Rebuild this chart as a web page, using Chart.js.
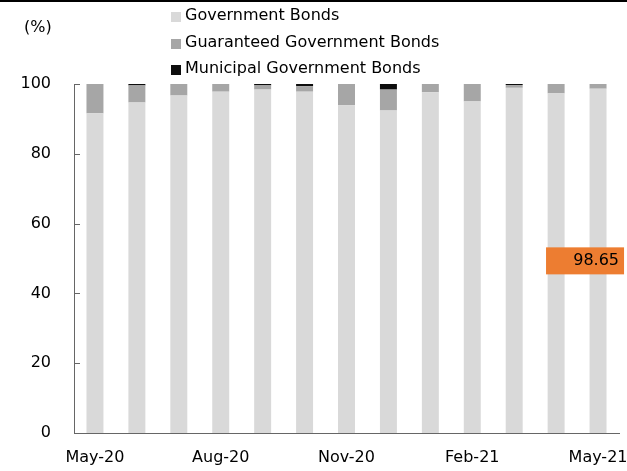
<!DOCTYPE html>
<html><head><meta charset="utf-8">
<script src="https://cdn.jsdelivr.net/npm/chart.js@4"></script>
<style>html,body{margin:0;padding:0;background:#fff;}#wrap{width:627px;height:471px;position:relative;}</style>
</head><body><div id="wrap"><canvas id="c" width="627" height="471"></canvas></div>
<script>
const months = ['May-20','Jun-20','Jul-20','Aug-20','Sep-20','Oct-20','Nov-20','Dec-20','Jan-21','Feb-21','Mar-21','Apr-21','May-21'];
const governmentBonds = [91.6, 94.7, 96.7, 97.8, 98.4, 97.8, 93.9, 92.4, 97.6, 95.0, 98.9, 97.3, 98.65];
const guaranteedBonds = [8.4, 4.9, 3.3, 2.2, 1.2, 1.6, 6.1, 6.0, 2.4, 5.0, 0.8, 2.7, 1.35];
const municipalBonds = [0, 0.4, 0, 0, 0.4, 0.6, 0, 1.6, 0, 0, 0.3, 0, 0];
const yTicks = [0, 20, 40, 60, 80, 100];
const seriesNames = ['Government Bonds', 'Guaranteed Government Bonds', 'Municipal Government Bonds'];

const FONT = "'DejaVu Sans', sans-serif";
const colors = ['#d9d9d9', '#a6a6a6', '#0d0d0d'];

const extras = {
  id: 'extras',
  afterDraw(chart) {
    const ctx = chart.ctx;
    const y = chart.scales.y;
    ctx.save();
    ctx.fillStyle = '#000';
    ctx.fillRect(0, 0, chart.width, 2);
    ctx.strokeStyle = '#666';
    ctx.lineWidth = 1;
    yTicks.forEach(v => {
      if (v === 0) return;
      const py = Math.round(y.getPixelForValue(v)) + 0.5;
      ctx.beginPath();
      ctx.moveTo(chart.chartArea.left, py);
      ctx.lineTo(chart.chartArea.left + 6, py);
      ctx.stroke();
    });
    ctx.fillStyle = '#000';
    ctx.font = '16px ' + FONT;
    ctx.textAlign = 'left';
    ctx.textBaseline = 'middle';
    ctx.fillText('(%)', 24, 28);
    const rows = [16, 43, 69];
    seriesNames.forEach((n, i) => {
      ctx.fillStyle = colors[i];
      ctx.fillRect(171, rows[i] - 4, 10, 10);
      ctx.fillStyle = '#000';
      ctx.fillText(n, 185, rows[i]);
    });
    const meta = chart.getDatasetMeta(0);
    const last = meta.data[meta.data.length - 1];
    const val = governmentBonds[governmentBonds.length - 1];
    const cy = (last.y + last.base) / 2;
    const cx = last.x - 13;
    ctx.fillStyle = '#ED7D31';
    ctx.fillRect(cx - 39, cy - 13.5, 78, 27);
    ctx.fillStyle = '#000';
    ctx.textAlign = 'right';
    ctx.fillText(val.toFixed(2), cx + 34, cy);
    ctx.restore();
  }
};

new Chart(document.getElementById('c'), {
  type: 'bar',
  data: {
    labels: months,
    datasets: [
      { label: seriesNames[0], data: governmentBonds, backgroundColor: colors[0] },
      { label: seriesNames[1], data: guaranteedBonds, backgroundColor: colors[1] },
      { label: seriesNames[2], data: municipalBonds, backgroundColor: colors[2] }
    ]
  },
  options: {
    responsive: false,
    animation: false,
    devicePixelRatio: 1,
    layout: { padding: { left: 0, right: 8, top: 84, bottom: 0 } },
    datasets: { bar: { barPercentage: 0.405, categoryPercentage: 1, borderWidth: 0 } },
    plugins: { legend: { display: false }, tooltip: { enabled: false } },
    scales: {
      x: {
        stacked: true,
        grid: { display: false, drawTicks: false },
        border: { display: true, color: '#666', width: 1 },
        ticks: {
          autoSkip: false, maxRotation: 0, padding: 15,
          color: '#000', font: { family: FONT, size: 16 },
          callback: function(v, i) { return i % 3 === 0 ? months[i] : ''; }
        },
        afterFit(s) { s.height = 38; s.paddingLeft = 0; s.paddingRight = 0; }
      },
      y: {
        stacked: true, min: 0, max: 100,
        grid: { display: false, drawTicks: false },
        border: { display: true, color: '#666', width: 1 },
        ticks: { stepSize: 20, padding: 23, color: '#000', font: { family: FONT, size: 16 } },
        afterFit(s) { s.width = 74; s.paddingTop = 0; s.paddingBottom = 0; }
      }
    }
  },
  plugins: [extras]
});
</script>
</body></html>
